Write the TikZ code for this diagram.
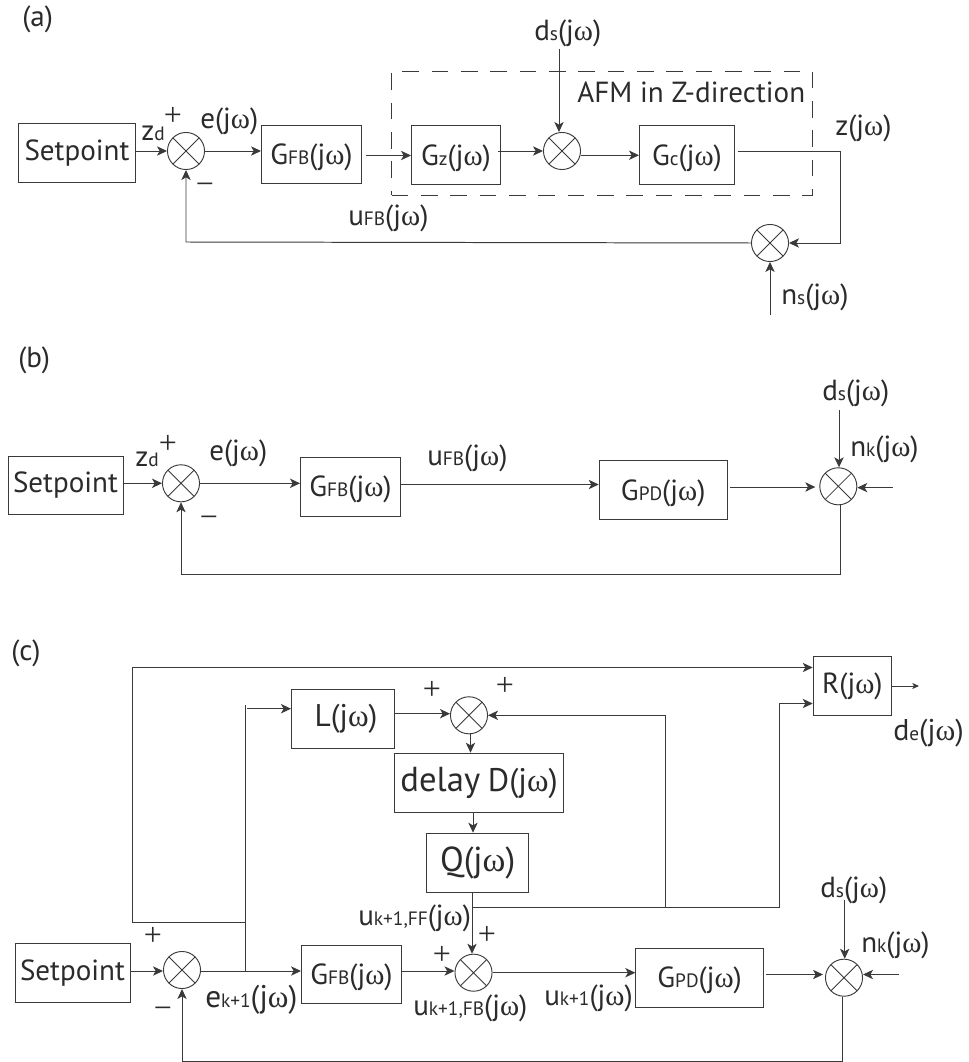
\documentclass[tikz,border=0pt]{standalone}
\usepackage{fontspec}
\setmainfont{PT Sans}
\newfontfamily\gkfont{Liberation Serif}
\usetikzlibrary{arrows.meta,calc}
\definecolor{ink}{HTML}{2B2B2B}
\definecolor{wire}{HTML}{3A3A3A}
\newcommand{\om}{{\gkfont ω}}
\newcommand{\sbx}[1]{{\fontsize{14.5}{15}\selectfont #1}}
\newcommand{\tf}[2]{#1\sbx{#2}(j\om)}
\newcommand{\tfb}[2]{\rule{0pt}{20pt}\tf{#1}{#2}}
\newcommand{\bigsz}[2]{{\fontsize{#1}{#1}\selectfont #2}}
\tikzset{
  x=0.75pt,y=-0.75pt,
  every node/.style={text=ink,font=\fontsize{21.8}{25}\selectfont},
  blk/.style={draw=wire,line width=0.74pt,inner sep=0pt,anchor=north west},
  summer/.style={circle,draw=wire,line width=0.7pt,minimum size=27.8pt,inner sep=0pt,
    path picture={\draw[wire,line width=0.65pt]
      (path picture bounding box.north west)--(path picture bounding box.south east)
      (path picture bounding box.north east)--(path picture bounding box.south west);}},
  lab/.style={inner sep=0pt,anchor=base west},
  sign/.style={inner sep=0pt,font=\gkfont\fontsize{24}{24}\selectfont},
  wir/.style={draw=wire,line width=0.74pt,line join=miter},
  arr/.style={wir,-{Stealth[length=7.5pt,width=7pt,inset=2pt]}},
  afmbox/.style={draw=wire,line width=0.74pt,dash pattern=on 12.5pt off 9.5pt,inner sep=0pt,anchor=north west}
}
\newcommand{\blkn}[6]{\node[blk,minimum width=#4*0.75pt,minimum height=#5*0.75pt] (#1) at (#2,#3) {#6};}
\begin{document}
\begin{tikzpicture}
\useasboundingbox (0,0) rectangle (969,1062);
\fill[white] (0,0) rectangle (969,1062);
% ---------- (a)
\node[lab] (tagA) at (22,27) {(a)};
\node[afmbox,minimum width=421*0.75pt,minimum height=124*0.75pt] (afm) at (391,71) {};
\blkn{setA}{18}{123.5}{117}{58.5}{Setpoint}
\blkn{gfbA}{261}{125}{100}{58}{\tfb{G}{FB}}
\blkn{gzA}{411}{125.5}{89}{59}{\tfb{G}{z}}
\blkn{gcA}{639}{125.5}{95}{58.5}{\tfb{G}{c}}
\node[summer] (sumA) at (186,151) {};
\node[summer] (sumB) at (562,151) {};
\node[summer] (sumC) at (770,243) {};
\coordinate (dsAin) at (559,49);
\coordinate (nsAin) at (770,315);
\coordinate (zcorn) at (840.5,151);
\coordinate (fbA) at (186,242);
\node[lab] (zdA) at (141,141) {z\sbx{d}};
\node[sign] (plusA) at (173,116) {+};
\node[sign] (minA) at (205,189) {−};
\node[lab] (eA) at (200,129) {e(j\om)};
\node[lab] (ufbA) at (348,226) {\tf{u}{FB}};
\node[lab] (dsA) at (534,41) {\tf{d}{s}};
\node[lab] (afmT) at (577,103) {AFM in Z-direction};
\node[lab] (zA) at (835,136) {z(j\om)};
\node[lab] (nsA) at (781,305) {\tf{n}{s}};
\draw[arr] (setA.east |- sumA) -- (sumA.west);
\draw[arr] (sumA.east) -- (gfbA.west |- sumA);
\draw[arr] ([xshift=3pt]gfbA.east |- gzA.west) -- (gzA.west);
\draw[arr] ([xshift=-2pt]gzA.east |- sumB.west) -- (sumB.west);
\draw[arr] (sumB.east |- gcA.west) -- (gcA.west);
\draw[arr] (dsAin) -- (sumB.north -| dsAin);
\draw[wir] ([xshift=2pt]gcA.east |- zcorn) -- (zcorn);
\draw[arr] (zcorn) -- (zcorn |- sumC.east) -- (sumC.east);
\draw[arr] (nsAin) -- (sumC.south);
\draw[arr] (sumC.west) -- (fbA) -- (sumA.south);
% ---------- (b)
\node[lab] (tagB) at (18,367) {(b)};
\blkn{setB}{7.5}{455.7}{115}{58.6}{Setpoint}
\blkn{gfbB}{300}{456.7}{100}{58.8}{\tfb{G}{FB}}
\blkn{gpdB}{598.7}{460}{128}{59}{\tfb{G}{PD}}
\node[summer] (sumD) at (181,483.3) {};
\node[summer] (sumE) at (838.3,486.3) {};
\coordinate (dsBin) at (839,410);
\coordinate (nkBin) at (892.7,487.6);
\coordinate (fbB) at (840,574);
\node[lab] (zdB) at (135,466) {z\sbx{d}};
\node[sign] (plusB) at (168,444.5) {+};
\node[sign] (minB) at (209,522) {−};
\node[lab] (eB) at (209,460) {e(j\om)};
\node[lab] (ufbB) at (427,465) {\tf{u}{FB}};
\node[lab] (dsB) at (822,400) {\tf{d}{s}};
\node[lab] (nkB) at (850,456) {\tf{n}{k}};
\draw[arr] (setB.east |- sumD) -- (sumD.west);
\draw[arr] (sumD.east) -- (gfbB.west |- sumD);
\draw[arr] (gfbB.east |- 0,484.5) -- (gpdB.west |- 0,484.5);
\draw[arr] ([xshift=2pt]gpdB.east |- 0,487) -- ([xshift=-3pt]sumE.west |- 0,487);
\draw[arr] (dsBin) -- (sumE.north -| dsBin);
\draw[arr] (nkBin) -- (sumE.east |- nkBin);
\draw[arr] (sumE.south -| fbB) -- (fbB) -- (fbB -| sumD) -- (sumD.south);
% ---------- (c)
\node[lab] (tagC) at (11,660) {(c)};
\blkn{setC}{14.5}{943.3}{115}{58.7}{Setpoint}
\blkn{gfbC}{301}{944.5}{100}{58.5}{\tfb{G}{FB}}
\blkn{gpdC}{635.3}{947.7}{127.7}{59.3}{\tfb{G}{PD}}
\blkn{lC}{291}{688.7}{102.5}{58.8}{\hspace{5pt}\bigsz{23.5}{L(j\om)}}
\blkn{delC}{394}{752.7}{169.3}{59}{\bigsz{26}{delay} \bigsz{24.5}{D(j\om)}}
\blkn{qC}{426}{832.7}{102.3}{58.8}{\bigsz{26}{Q(j\om)}}
\blkn{rC}{812.7}{656}{78.3}{59}{R(j\om)}
\node[summer] (sumF) at (182,970) {};
\node[summer] (sumG) at (473.5,972.7) {};
\node[summer] (sumH) at (844,977.7) {};
\node[summer] (sumI) at (469,715.3) {};
\coordinate (jE) at (245,971);
\coordinate (jEt) at (245,705);
\coordinate (jEm) at (245,922);
\coordinate (topL) at (132.5,922);
\coordinate (topR) at (132.5,667.5);
\coordinate (jQ) at (472,907);
\coordinate (jS) at (665,907);
\coordinate (jR) at (779,907);
\coordinate (jRt) at (779,703.5);
\coordinate (rOut) at (919,686);
\coordinate (dsCin) at (844.7,900);
\coordinate (nkCin) at (899,974.5);
\coordinate (fbC) at (842.5,1061);
\node[sign] (plusC) at (153,936) {+};
\node[sign] (minC) at (163,1013) {−};
\node[lab] (eC) at (205,1007) {\bigsz{23.5}{\tf{e}{k+1}}};
\node[lab] (uffC) at (358,925) {\tf{u}{k+1,FF}};
\node[sign] (plusD) at (487,935) {+};
\node[sign] (plusE) at (442,955) {+};
\node[lab] (ufbC) at (413,1015) {\tf{u}{k+1,FB}};
\node[lab] (ukC) at (544,1005) {\tf{u}{k+1}};
\node[sign] (plusF) at (432,690) {+};
\node[sign] (plusG) at (505,686) {+};
\node[lab] (dsC) at (820,897) {\tf{d}{s}};
\node[lab] (nkC) at (861,952) {\tf{n}{k}};
\node[lab] (deC) at (893,740) {\bigsz{22.5}{\tf{d}{e}}};
\draw[arr] (setC.east |- 0,971) -- (sumF.west |- 0,971);
\draw[arr] (sumF.east |- 0,971) -- (gfbC.west |- 0,971);
\draw[arr] (gfbC.east |- 0,971) -- (sumG.west |- 0,971);
\draw[arr] (sumG.east) -- (gpdC.west |- sumG);
\draw[arr] ([xshift=1.5pt]gpdC.east |- 0,974.5) -- ([xshift=-1.5pt]sumH.west |- 0,974.5);
\draw[arr] (dsCin) -- (sumH.north -| dsCin);
\draw[arr] (nkCin) -- (sumH.east |- nkCin);
\draw[arr] (sumH.south -| fbC) -- (fbC) -- (fbC -| sumF) -- (sumF.south);
\draw[wir] (jE) -- (jEt);
\draw[arr] ([xshift=1.5pt]jEt |- 0,708.7) -- (lC.west |- 0,708.7);
\draw[arr] (jEm) -- (topL) -- (topR) -- (rC.west |- topR);
\draw[arr] (lC.east |- 0,713.7) -- (sumI.west |- 0,713.7);
\draw[arr] (jS) -- (jS |- sumI) -- (sumI.east);
\draw[arr] (sumI.south -| 470.5,0) -- (delC.north -| 470.5,0);
\draw[arr] (delC.south -| 473,0) -- (qC.north -| 473,0);
\draw[arr] (qC.south -| jQ) -- (sumG.north -| jQ);
\draw[arr] (jQ) -- (jR) -- (jRt) -- (rC.west |- jRt);
\draw[arr,-{Stealth[length=5pt,width=4.5pt,inset=1.2pt]}] (rC.east |- rOut) -- (rOut);
\end{tikzpicture}
\end{document}
